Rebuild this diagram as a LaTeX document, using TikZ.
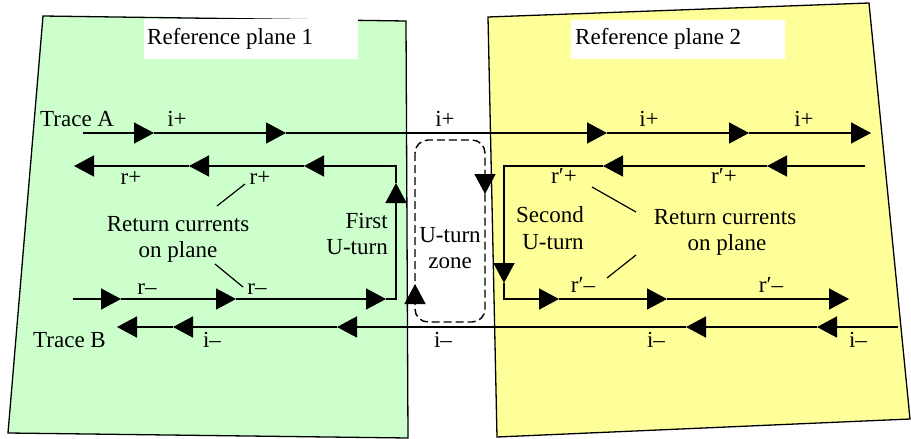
\documentclass[tikz,border=0pt]{standalone}
\usepackage{fontspec}
\setmainfont{Liberation Serif}
\usetikzlibrary{arrows.meta}
\definecolor{planeA}{RGB}{204,255,204}
\definecolor{planeB}{RGB}{255,255,153}
\begin{document}
\begin{tikzpicture}[x=1pt,y=-1pt,
  lbl/.style={inner sep=0pt,anchor=base,font=\fontsize{23}{27}\selectfont},
  ln/.style={line width=1.6pt},
  ar/.style={ln,-{Triangle[length=20pt,width=21pt]}},
  plane/.style={draw=black,line width=1.3pt},
  leader/.style={line width=1.2pt},
  zone/.style={draw=black,line width=1.4pt,dash pattern=on 8pt off 4pt,rounded corners=13pt}
]
\useasboundingbox (0,0) rectangle (911,439);

% reference planes
\filldraw[plane,fill=planeA] (43,16) -- (406,21) -- (408,438) -- (8,433) -- cycle;
\filldraw[plane,fill=planeB] (488,17) -- (869,3) -- (910,419) -- (497,437) -- cycle;

% plane titles
\fill[white] (144,19) rectangle (358,59);
\fill[white] (571,20) rectangle (785,59);
\node[lbl,anchor=base west] (t1) at (147,45) {Reference plane 1};
\node[lbl,anchor=base west] (t2) at (575,45) {Reference plane 2};

% U-turn zone
\draw[zone] (415,140) rectangle (485,322);
\coordinate (z1) at (485,175);
\coordinate (z2) at (485,194);
\coordinate (z3) at (415,303);
\coordinate (z4) at (415,284);
\draw[ar] (z1) -- (z2);
\draw[ar] (z3) -- (z4);

% Trace A
\coordinate (a0) at (83,133);
\coordinate (a1) at (154,133);
\coordinate (a2) at (286,133);
\coordinate (a3) at (607,133);
\coordinate (a4) at (749,133);
\coordinate (a5) at (871,133);
\draw[ar] (a0) -- (a1);
\draw[ar] (a1) -- (a2);
\draw[ar] (a2) -- (a3);
\draw[ar] (a3) -- (a4);
\draw[ar] (a4) -- (a5);

% Trace B
\coordinate (b0) at (898,327);
\coordinate (b1) at (817,327);
\coordinate (b2) at (686,327);
\coordinate (b3) at (337,327);
\coordinate (b4) at (173,327);
\coordinate (b5) at (117,327);
\draw[ar] (b0) -- (b1);
\draw[ar] (b1) -- (b2);
\draw[ar] (b2) -- (b3);
\draw[ar] (b3) -- (b4);
\draw[ar] (b4) -- (b5);

% first loop (plane 1)
\coordinate (l0) at (73,299);
\coordinate (l1) at (121,299);
\coordinate (l2) at (236,299);
\coordinate (l3) at (386,299);
\coordinate (lc1) at (396,299);
\coordinate (l4) at (396,183);
\coordinate (lc2) at (396,166);
\coordinate (l5) at (304,166);
\coordinate (l6) at (189,166);
\coordinate (l7) at (74,166);
\draw[ar] (l0) -- (l1);
\draw[ar] (l1) -- (l2);
\draw[ar] (l2) -- (l3);
\draw[ar] (l3) -- (lc1) -- (l4);
\draw[ar] (l4) -- (lc2) -- (l5);
\draw[ar] (l5) -- (l6);
\draw[ar] (l6) -- (l7);

% second loop (plane 2)
\coordinate (m0) at (865,166);
\coordinate (m1) at (767,166);
\coordinate (m2) at (603,166);
\coordinate (mc1) at (504,166);
\coordinate (m3) at (504,283);
\coordinate (mc2) at (504,299);
\coordinate (m4) at (559,299);
\coordinate (m5) at (667,299);
\coordinate (m6) at (849,299);
\draw[ar] (m0) -- (m1);
\draw[ar] (m1) -- (m2);
\draw[ar] (m2) -- (mc1) -- (m3);
\draw[ar] (m3) -- (mc2) -- (m4);
\draw[ar] (m4) -- (m5);
\draw[ar] (m5) -- (m6);

% labels
\node[lbl,anchor=base west] (traceA) at (40,126) {Trace A};
\node[lbl,anchor=base west] (traceB) at (33,347) {Trace B};

\node[lbl] (ip1) at (177,126) {i+};
\node[lbl] (ip2) at (445,126) {i+};
\node[lbl] (ip3) at (649,126) {i+};
\node[lbl] (ip4) at (804,126) {i+};

\node[lbl] (rp1) at (131,184) {r+};
\node[lbl] (rp2) at (260,184) {r+};
\node[lbl] (rq1) at (564,183) {r′+};
\node[lbl] (rq2) at (724,183) {r′+};

\node[lbl] (rm1) at (147,294) {r–};
\node[lbl] (rm2) at (257,294) {r–};
\node[lbl] (rn1) at (583,292) {r′–};
\node[lbl] (rn2) at (771,292) {r′–};

\node[lbl] (im1) at (212,347) {i–};
\node[lbl] (im2) at (443,347) {i–};
\node[lbl] (im3) at (656,347) {i–};
\node[lbl] (im4) at (858,347) {i–};

\node[lbl] (ret1a) at (178,231) {Return currents};
\node[lbl] (ret1b) at (178,257) {on plane};
\node[lbl,anchor=base east] (fu1) at (388,228) {First};
\node[lbl,anchor=base east] (fu2) at (388,254) {U-turn};

\node[lbl] (su1) at (550,222) {Second};
\node[lbl] (su2) at (553,249) {U-turn};
\node[lbl] (ret2a) at (725,224) {Return currents};
\node[lbl] (ret2b) at (727,250) {on plane};

\node[lbl] (uz1) at (450,242) {U-turn};
\node[lbl] (uz2) at (450,268) {zone};

% leader lines
\coordinate (p1) at (217,206);
\coordinate (p2) at (245,184);
\coordinate (p3) at (215,264);
\coordinate (p4) at (243,287);
\coordinate (p5) at (592,187);
\coordinate (p6) at (636,212);
\coordinate (p7) at (636,255);
\coordinate (p8) at (607,278);
\draw[leader] (p1) -- (p2);
\draw[leader] (p3) -- (p4);
\draw[leader] (p5) -- (p6);
\draw[leader] (p7) -- (p8);
\end{tikzpicture}
\end{document}
